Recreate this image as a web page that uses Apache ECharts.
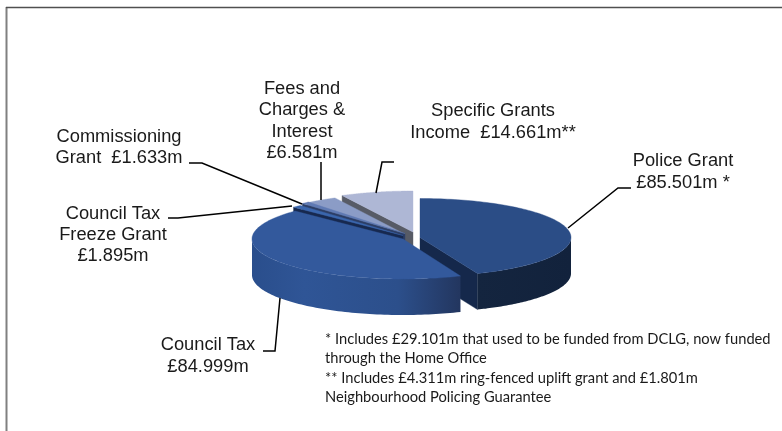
<!DOCTYPE html>
<html>
<head>
<meta charset="utf-8">
<style>html,body{margin:0;padding:0;background:#fff}#c{width:782px;height:431px}</style>
<script src="https://cdn.jsdelivr.net/npm/echarts@6/dist/echarts.min.js"></script>
</head>
<body>
<div id="c"></div>
<script>
// ---- data ----
var categories = ['Police Grant', 'Council Tax', 'Council Tax Freeze Grant', 'Commissioning Grant', 'Fees and Charges & Interest', 'Specific Grants Income'];
var values = [85.501, 84.999, 1.895, 1.633, 6.581, 14.661];
var sliceLabels = [
  'Police Grant\n£85.501m *',
  'Council Tax\n£84.999m',
  'Council Tax\nFreeze Grant\n£1.895m',
  'Commissioning\nGrant  £1.633m',
  'Fees and\nCharges &\nInterest\n£6.581m',
  'Specific Grants\nIncome  £14.661m**'
];
var footnotes = '* Includes £29.101m that used to be funded from DCLG, now funded\nthrough the Home Office\n** Includes £4.311m ring-fenced uplift grant and £1.801m\nNeighbourhood Policing Guarantee';

// ---- layout and style of the tilted, exploded pie ----
var centres = [[420, 237.5], [403, 239], [403, 235.5], [405, 233.5], [404.5, 234], [413, 232]];
var radiiX = [151, 151, 153, 153, 153, 156];
var radiiY = [39, 40, 40.5, 40.5, 40.5, 41];
var depth = 36;
var drawRank = [4, 5, 3, 2, 1, 0];
var topColors = ['#2b4d86', '#33599c', '#3a66ad', '#5f7ab4', '#8b9cc6', '#aeb7d5'];
var cutColors = ['#15284b', '#1b3360', '#17294f', '#2c3e66', '#5a6272', '#575b66'];
var rimColors = [
  [[0, '#14253f'], [1, '#12223c']],
  [[0, '#2a4e8c'], [0.25, '#2f5596'], [0.7, '#2c4f8b'], [1, '#23365f']]
];
var labelPos = [[683, 172], [208, 356], [113, 235], [119, 147.5], [302, 121], [493, 122]];
var leaders = [
  [[568, 228], [618, 188], [631, 188]],
  [[280, 298], [275, 351], [263, 351]],
  [[292, 206], [178, 218], [168, 218]],
  [[302, 204], [202, 163], [189, 163]],
  [[321, 200], [321, 162]],
  [[376, 193], [382, 162], [394, 162]]
];

var total = values.reduce(function (a, b) { return a + b; }, 0);
var starts = [];
values.reduce(function (acc, v, i) { starts[i] = acc; return acc + v; }, 0);
var rad = function (v) { return v / total * Math.PI * 2; };

function renderSlice(params, api) {
  var i = params.dataIndex;
  var a0 = rad(starts[i]), a1 = a0 + rad(api.value(1));
  var c = centres[i], rx = radiiX[i], ry = radiiY[i];
  var pt = function (a, dz) { return [c[0] + rx * Math.sin(a), c[1] - ry * Math.cos(a) + (dz || 0)]; };
  var z = drawRank[i] * 10;
  var kids = [];
  var face = function (points, fill, zz) {
    kids.push({ type: 'polygon', shape: { points: points }, style: { fill: fill, stroke: typeof fill === 'string' ? fill : null, lineWidth: 0.4 }, z2: z + zz });
  };
  var cut = function (a) {
    var p = pt(a);
    face([[c[0], c[1]], p, [p[0], p[1] + depth], [c[0], c[1] + depth]], cutColors[i], 1);
  };
  if (-Math.sin(a0) > 0) cut(a0);
  if (Math.sin(a1) > 0) cut(a1);
  var r0 = Math.max(a0, Math.PI / 2), r1 = Math.min(a1, Math.PI * 1.5);
  if (r1 > r0) {
    var top = [], bottom = [];
    for (var k = 0; k <= 80; k++) {
      var a = r0 + (r1 - r0) * k / 80;
      top.push(pt(a)); bottom.unshift(pt(a, depth));
    }
    var xs = top.map(function (p) { return p[0]; });
    var stops = rimColors[i].map(function (s) { return { offset: s[0], color: s[1] }; });
    var grad = new echarts.graphic.LinearGradient(Math.min.apply(null, xs), 0, Math.max.apply(null, xs), 0, stops, true);
    face(top.concat(bottom), grad, 2);
  }
  var ring = [[c[0], c[1]]];
  for (var m = 0; m <= 120; m++) ring.push(pt(a0 + (a1 - a0) * m / 120));
  face(ring, topColors[i], 3);
  return { type: 'group', children: kids };
}

var textStyle = { fontFamily: '"Liberation Sans", Arial, sans-serif', fontSize: 18.3, fill: '#1a1a1a', lineHeight: 21.4, textAlign: 'center', textVerticalAlign: 'middle' };
var graphics = [
  { type: 'line', silent: true, shape: { x1: 6.5, y1: 7, x2: 6.5, y2: 431 }, style: { stroke: '#808080', lineWidth: 2 } },
  { type: 'line', silent: true, shape: { x1: 6, y1: 7.5, x2: 782, y2: 7.5 }, style: { stroke: '#505050', lineWidth: 1.3 } }
];
sliceLabels.forEach(function (t, i) {
  graphics.push({ type: 'text', silent: true, x: labelPos[i][0], y: labelPos[i][1], style: Object.assign({ text: t }, textStyle) });
  graphics.push({ type: 'polyline', silent: true, z: 20, shape: { points: leaders[i] }, style: { stroke: '#000', lineWidth: 1.5, fill: null } });
});
graphics.push({ type: 'text', silent: true, x: 325, y: 368.5, style: { text: footnotes, fontFamily: 'Lato, sans-serif', fontSize: 14.7, lineHeight: 19.5, fill: '#1a1a1a', textAlign: 'left', textVerticalAlign: 'middle' } });

var chart = echarts.init(document.getElementById('c'));
chart.setOption({
  animation: false,
  backgroundColor: '#fff',
  graphic: graphics,
  series: [{
    type: 'custom',
    coordinateSystem: 'none',
    silent: true,
    renderItem: renderSlice,
    data: categories.map(function (n, i) { return { name: n, value: [i, values[i]] }; })
  }]
});
</script>
</body>
</html>
